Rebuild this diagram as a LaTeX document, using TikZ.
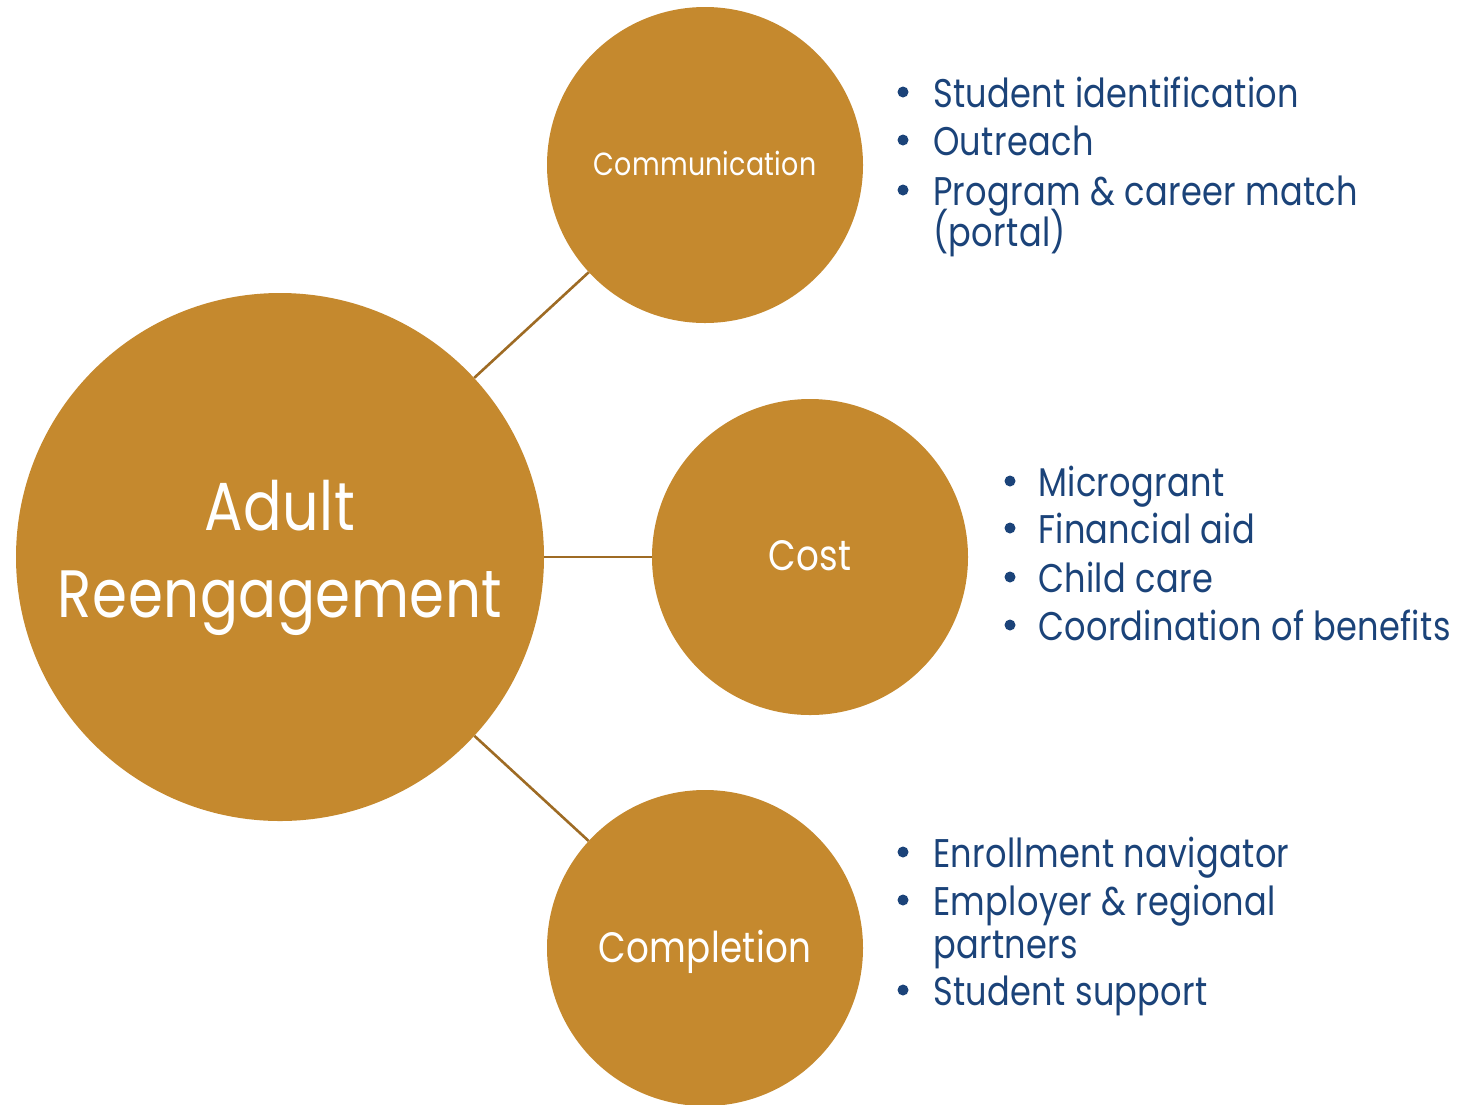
\documentclass[tikz,border=0pt]{standalone}
\usepackage{fontspec}
\setmainfont{Poppins}[FakeStretch=0.84,LetterSpace=0.8]
\definecolor{gold}{HTML}{C5892E}
\definecolor{linkc}{HTML}{9E6B24}
\definecolor{navy}{HTML}{1B4379}
\begin{document}
\begin{tikzpicture}[x=1pt,y=-1pt,
  hub/.style={circle,fill=gold,draw=none,inner sep=0pt,minimum size=528pt},
  spoke/.style={circle,fill=gold,draw=none,inner sep=0pt,minimum size=316pt},
  link/.style={draw=linkc,line width=2.6pt},
  lab/.style={text=white,anchor=base,inner sep=0pt},
  item/.style={text=navy,anchor=base west,inner sep=0pt,font=\fontsize{40}{40}\selectfont},
  dot/.style={circle,fill=navy,draw=none,inner sep=0pt,minimum size=11pt}]
\useasboundingbox (0,0) rectangle (1458,1104);
\begin{scope}
\clip (0,0) rectangle (1458,1104);
\node[hub] (big) at (280,557) {};
\node[spoke] (comm) at (705,165) {};
\node[spoke] (cost) at (810,557) {};
\node[spoke] (comp) at (705,948) {};
\end{scope}
\draw[link] (big) -- (comm);
\draw[link] (big) -- (cost);
\draw[link] (big) -- (comp);
\node[lab,font=\fontsize{68}{68}\selectfont] (t1) at (280,530) {Adult};
\node[lab,font=\fontsize{67}{67}\selectfont] (t2) at (280,617) {Reengagement};
\node[lab,font=\fontsize{32}{32}\selectfont] (t3) at (705,175) {Communication};
\node[lab,font=\fontsize{42.5}{42.5}\selectfont] (t4) at (810,570) {Cost};
\node[lab,font=\fontsize{42.5}{42.5}\selectfont] (t5) at (705,962) {Completion};
% communication list
\node[dot] (b1) at (903,92) {};
\node[item] (i1) at (933,107) {Student identification};
\node[dot] (b2) at (903,140) {};
\node[item] (i2) at (933,155) {Outreach};
\node[dot] (b3) at (903,190) {};
\node[item] (i3) at (933,205) {Program \& career match};
\node[item] (i3b) at (933,246) {(portal)};
% cost list
\node[dot] (c1) at (1010,481) {};
\node[item] (j1) at (1038,496) {Microgrant};
\node[dot] (c2) at (1010,528) {};
\node[item] (j2) at (1038,543) {Financial aid};
\node[dot] (c3) at (1010,577) {};
\node[item] (j3) at (1038,592) {Child care};
\node[dot] (c4) at (1010,625) {};
\node[item] (j4) at (1038,640) {Coordination of benefits};
% completion list
\node[dot] (d1) at (903,852) {};
\node[item] (k1) at (933,867) {Enrollment navigator};
\node[dot] (d2) at (903,900) {};
\node[item] (k2) at (933,915) {Employer \& regional};
\node[item] (k2b) at (933,958) {partners};
\node[dot] (d3) at (903,990) {};
\node[item] (k3) at (933,1005) {Student support};
\end{tikzpicture}
\end{document}
